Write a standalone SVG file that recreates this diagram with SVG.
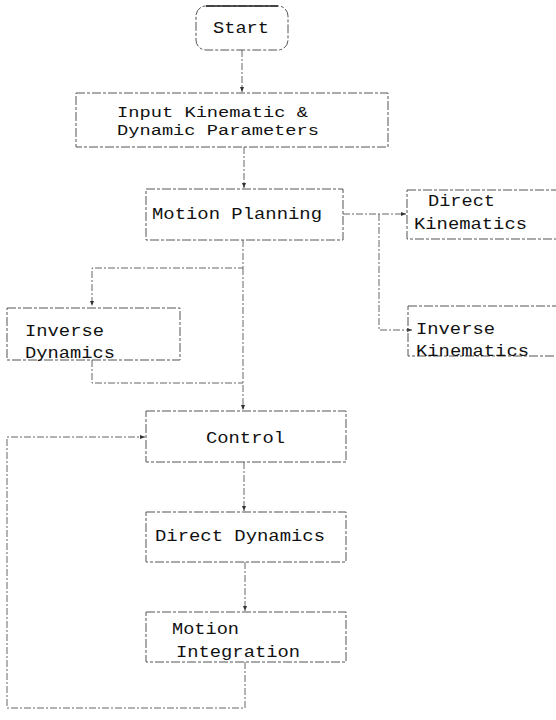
<svg xmlns="http://www.w3.org/2000/svg" width="556" height="720" viewBox="0 0 556 720">
<defs>
<style>
.box{fill:none;stroke:#555;stroke-width:1;stroke-dasharray:9 2 3 2}
.ln{fill:none;stroke:#666;stroke-width:1;stroke-dasharray:7 2 2 2}
.t{font-family:"Liberation Mono","Courier New",monospace;font-size:16.5px;fill:#111}
.ts{font-size:15.5px}
</style>
<marker id="ah" markerWidth="6" markerHeight="6" refX="5" refY="3" orient="auto" markerUnits="userSpaceOnUse">
<path d="M0,1 L5,3 L0,5 z" fill="#333"/>
</marker>
</defs>
<rect width="556" height="720" fill="#fff"/>
<g id="connectors">
<path class="ln" d="M242,50 V92" marker-end="url(#ah)"/>
<path class="ln" d="M244,147 V188" marker-end="url(#ah)"/>
<path class="ln" d="M343,214 H406" marker-end="url(#ah)"/>
<path class="ln" d="M379,214 V330 H412" marker-end="url(#ah)"/>
<path class="ln" d="M243,240 V268 H92 V306" marker-end="url(#ah)"/>
<path class="ln" d="M92,360 V383 H243"/>
<path class="ln" d="M243,268 V410" marker-end="url(#ah)"/>
<path class="ln" d="M244,462 V511" marker-end="url(#ah)"/>
<path class="ln" d="M245,562 V611" marker-end="url(#ah)"/>
<path class="ln" d="M245,662 V708 H7 V437 H145" marker-end="url(#ah)"/>
</g>
<g id="start">
<rect x="196" y="6" width="92" height="44" rx="10" class="box"/>
<path d="M206,6 H278" stroke="#222" stroke-width="1.5" fill="none"/>
<text x="213" y="33" textLength="56" lengthAdjust="spacingAndGlyphs" class="t">Start</text>
</g>
<g id="input">
<rect x="76" y="93" width="312" height="54" class="box"/>
<text x="117" y="117" textLength="191" lengthAdjust="spacingAndGlyphs" class="t ts">Input Kinematic &amp;</text>
<text x="117" y="135" textLength="202" lengthAdjust="spacingAndGlyphs" class="t ts">Dynamic Parameters</text>
</g>
<g id="motion-planning">
<rect x="146" y="189" width="197" height="51" class="box"/>
<text x="152" y="219" textLength="170" lengthAdjust="spacingAndGlyphs" class="t">Motion Planning</text>
</g>
<g id="direct-kinematics">
<rect x="407" y="190" width="160" height="49" class="box"/>
<text x="428" y="206" textLength="67" lengthAdjust="spacingAndGlyphs" class="t">Direct</text>
<text x="414" y="229" textLength="113" lengthAdjust="spacingAndGlyphs" class="t">Kinematics</text>
</g>
<g id="inverse-kinematics">
<rect x="408" y="306" width="160" height="50" class="box"/>
<text x="416" y="334" textLength="79" lengthAdjust="spacingAndGlyphs" class="t">Inverse</text>
<text x="416" y="356" textLength="113" lengthAdjust="spacingAndGlyphs" class="t">Kinematics</text>
</g>
<g id="inverse-dynamics">
<rect x="7" y="308" width="173" height="52" class="box"/>
<text x="25" y="336" textLength="79" lengthAdjust="spacingAndGlyphs" class="t">Inverse</text>
<text x="25" y="358" textLength="90" lengthAdjust="spacingAndGlyphs" class="t">Dynamics</text>
</g>
<g id="control">
<rect x="146" y="411" width="200" height="51" class="box"/>
<text x="206" y="443" textLength="79" lengthAdjust="spacingAndGlyphs" class="t">Control</text>
</g>
<g id="direct-dynamics">
<rect x="146" y="512" width="200" height="50" class="box"/>
<text x="155" y="541" textLength="170" lengthAdjust="spacingAndGlyphs" class="t">Direct Dynamics</text>
</g>
<g id="motion-integration">
<rect x="146" y="612" width="200" height="50" class="box"/>
<text x="172" y="634" textLength="67" lengthAdjust="spacingAndGlyphs" class="t">Motion</text>
<text x="176" y="657" textLength="124" lengthAdjust="spacingAndGlyphs" class="t">Integration</text>
</g>
</svg>
